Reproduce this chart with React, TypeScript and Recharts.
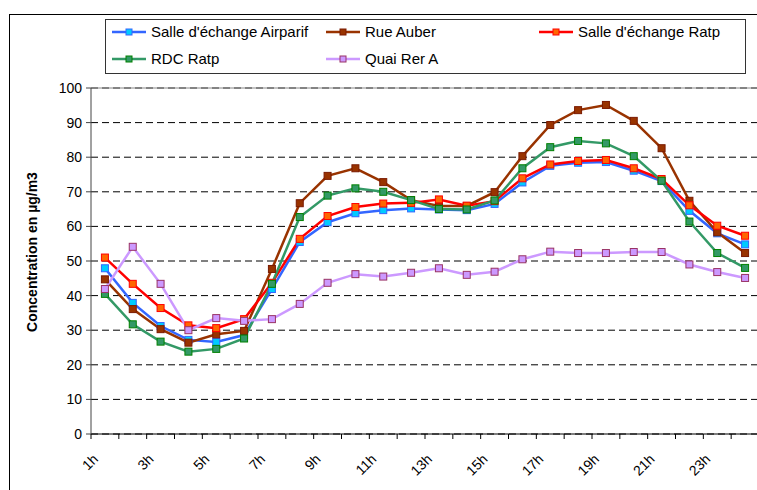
import React from "react";
import {
    LineChart,
    Line,
    XAxis,
    YAxis,
    CartesianGrid,
    ReferenceLine,
} from "recharts";

// hourly concentrations (µg/m3)
const HOURS = [
    "1h", "2h", "3h", "4h", "5h", "6h", "7h", "8h", "9h", "10h", "11h", "12h",
    "13h", "14h", "15h", "16h", "17h", "18h", "19h", "20h", "21h", "22h", "23h", "24h",
];
const AIRPARIF = [47.9, 37.9, 31.2, 27.2, 26.6, 28.6, 41.9, 55.5, 61.2, 63.8, 64.7, 65.2, 64.9, 64.7, 66.5, 72.7, 77.5, 78.4, 78.6, 76.1, 73.1, 64.5, 58.0, 54.8];
const AUBER = [44.7, 36.1, 30.3, 26.4, 28.8, 29.8, 47.7, 66.7, 74.6, 76.8, 72.8, 67.6, 65.9, 65.9, 69.9, 80.3, 89.3, 93.6, 95.1, 90.5, 82.6, 67.4, 58.3, 52.3];
const RATP = [51.0, 43.4, 36.4, 31.4, 30.6, 33.2, 43.7, 56.4, 63.0, 65.6, 66.6, 66.8, 67.8, 66.0, 67.3, 73.9, 77.9, 78.9, 79.2, 76.8, 73.7, 66.1, 60.2, 57.3];
const RDC = [40.5, 31.7, 26.7, 23.8, 24.6, 27.6, 43.4, 62.7, 68.9, 71.0, 70.0, 67.6, 65.0, 64.9, 67.5, 76.8, 82.9, 84.7, 84.0, 80.3, 73.2, 61.4, 52.3, 48.0];
const QUAI = [41.9, 54.1, 43.4, 30.0, 33.5, 32.7, 33.2, 37.6, 43.7, 46.2, 45.5, 46.6, 47.9, 46.0, 46.9, 50.5, 52.7, 52.3, 52.3, 52.6, 52.6, 49.0, 46.8, 45.1];
const Y_TICKS = [0, 10, 20, 30, 40, 50, 60, 70, 80, 90, 100];

const FONT = "'Liberation Sans', Arial, sans-serif";

const SERIES = [
    { key: "airparif", name: "Salle d'échange Airparif", line: "#3366ff", fill: "#00ccff", edge: "#3366ff" },
    { key: "auber", name: "Rue Auber", line: "#993300", fill: "#993300", edge: "#7a1a00" },
    { key: "ratp", name: "Salle d'échange Ratp", line: "#ff0000", fill: "#ff6600", edge: "#ff0000" },
    { key: "rdc", name: "RDC Ratp", line: "#339966", fill: "#339966", edge: "#008000" },
    { key: "quai", name: "Quai Rer A", line: "#cc99ff", fill: "#cc99ff", edge: "#993366" },
];

const data = HOURS.map((hour, i) => ({
    hour,
    airparif: AIRPARIF[i],
    auber: AUBER[i],
    ratp: RATP[i],
    rdc: RDC[i],
    quai: QUAI[i],
}));

const W = 770;
const H = 490;
const Y_AXIS_W = 91;
const RIGHT = 11;
const BAND = (W - Y_AXIS_W - RIGHT) / HOURS.length;

// category ticks sit between points, labels only on odd hours
function XTick(props: any) {
    const { x, y, payload, index } = props;
    const axisY = y - 7;
    const lx = x - BAND / 2;
    const tx = x - 6;
    const ty = y + 19;
    return (
        <g>
            <line x1={lx} y1={axisY} x2={lx} y2={axisY + 5} stroke="#000" />
            {index === HOURS.length - 1 && (
                <line x1={x + BAND / 2} y1={axisY} x2={x + BAND / 2} y2={axisY + 5} stroke="#000" />
            )}
            {index % 2 === 0 && (
                <text
                    x={tx}
                    y={ty}
                    transform={`rotate(-45 ${tx} ${ty})`}
                    textAnchor="end"
                    fontSize={14}
                    fontFamily={FONT}
                    fill="#000"
                >
                    {payload.value}
                </text>
            )}
        </g>
    );
}

function squareDot(fill: string, edge: string, size: number) {
    return (p: any) => (
        <rect
            key={`${p.dataKey}-${p.index}`}
            x={p.cx - size / 2}
            y={p.cy - size / 2}
            width={size}
            height={size}
            fill={fill}
            stroke={edge}
            strokeWidth={1}
        />
    );
}

function LegendBox() {
    const cols = [6, 220, 433];
    const rows = [12, 39];
    return (
        <div
            style={{
                position: "absolute",
                left: 105,
                top: 19,
                width: 641,
                height: 55,
                border: "1px solid #333",
                boxSizing: "border-box",
                background: "#fff",
            }}
        >
            <svg width={641} height={54} style={{ display: "block" }}>
                {SERIES.map((s, i) => {
                    const cx = cols[i % 3];
                    const cy = rows[Math.floor(i / 3)];
                    return (
                        <g key={s.key}>
                            <line x1={cx} y1={cy} x2={cx + 34} y2={cy} stroke={s.line} strokeWidth={2.5} />
                            <rect x={cx + 14} y={cy - 3} width={6} height={6} fill={s.fill} stroke={s.edge} />
                            <text x={cx + 39} y={cy} dy="0.36em" fontSize={15} fontFamily={FONT} fill="#000">
                                {s.name}
                            </text>
                        </g>
                    );
                })}
            </svg>
        </div>
    );
}

export default function App() {
    return (
        <div
            style={{
                position: "absolute",
                left: 0,
                top: 0,
                width: 757,
                height: 490,
                overflow: "hidden",
                background: "#fff",
                fontFamily: FONT,
            }}
        >
            <div
                style={{
                    position: "absolute",
                    left: 9,
                    top: 14,
                    width: 800,
                    height: 520,
                    borderTop: "1px solid #000",
                    borderLeft: "1px solid #000",
                }}
            />
            <div style={{ position: "absolute", left: 0, top: 0 }}>
                <LineChart width={W} height={H} data={data} margin={{ top: 88, right: RIGHT, bottom: 0, left: 0 }}>
                    <CartesianGrid vertical={false} stroke="#000" strokeDasharray="7 4" />
                    <ReferenceLine y={100} stroke="#888" strokeWidth={1} />
                    <XAxis
                        dataKey="hour"
                        interval={0}
                        height={56}
                        padding={{ left: BAND / 2, right: BAND / 2 }}
                        tickLine={false}
                        tickSize={5}
                        tickMargin={2}
                        axisLine={{ stroke: "#000" }}
                        tick={<XTick />}
                    />
                    <YAxis
                        type="number"
                        domain={[0, 100]}
                        ticks={Y_TICKS}
                        width={Y_AXIS_W}
                        tickSize={5}
                        tickMargin={4}
                        axisLine={{ stroke: "#444" }}
                        tickLine={{ stroke: "#444" }}
                        tick={{ fill: "#000", fontSize: 14, fontFamily: FONT }}
                        label={{
                            content: () => (
                                <text
                                    x={37}
                                    y={252}
                                    transform="rotate(-90 37 252)"
                                    textAnchor="middle"
                                    fontSize={14}
                                    fontWeight="bold"
                                    fontFamily={FONT}
                                    fill="#000"
                                >
                                    Concentration en µg/m3
                                </text>
                            ),
                        }}
                    />
                    {SERIES.map((s) => (
                        <Line
                            key={s.key}
                            type="linear"
                            dataKey={s.key}
                            name={s.name}
                            stroke={s.line}
                            strokeWidth={2.5}
                            dot={squareDot(s.fill, s.edge, 7)}
                            activeDot={false}
                            isAnimationActive={false}
                        />
                    ))}
                </LineChart>
            </div>
            <LegendBox />
        </div>
    );
}
